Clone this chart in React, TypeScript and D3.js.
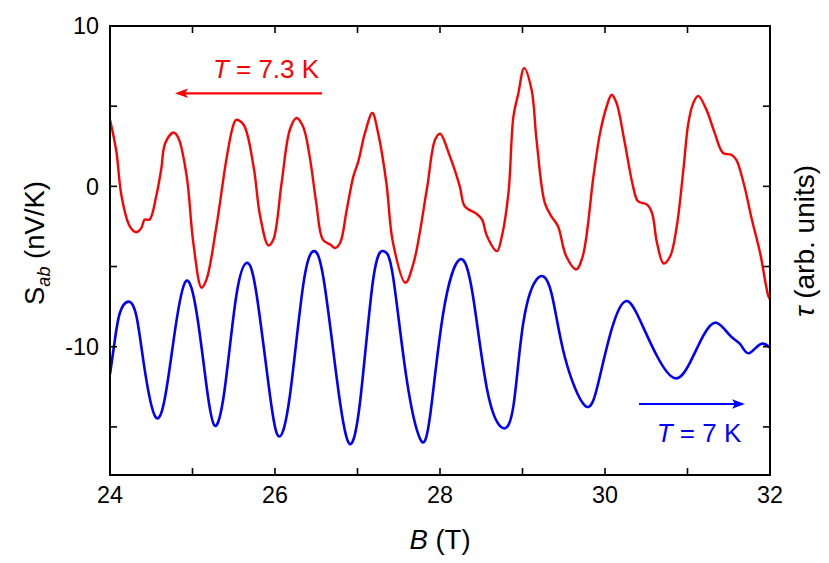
import React from "react";
import * as d3 from "d3";

const redB = [24.0, 24.04, 24.08, 24.14, 24.24, 24.32, 24.38, 24.42, 24.48, 24.56, 24.62, 24.67, 24.77, 24.83, 24.93, 25.01, 25.11, 25.17, 25.29, 25.41, 25.49, 25.53, 25.62, 25.74, 25.82, 25.92, 25.98, 26.08, 26.18, 26.26, 26.34, 26.42, 26.5, 26.58, 26.67, 26.73, 26.79, 26.87, 26.95, 27.01, 27.09, 27.18, 27.25, 27.35, 27.43, 27.58, 27.68, 27.84, 27.94, 28.0, 28.12, 28.24, 28.3, 28.44, 28.51, 28.57, 28.69, 28.75, 28.83, 28.89, 28.95, 29.02, 29.11, 29.17, 29.27, 29.35, 29.43, 29.53, 29.65, 29.73, 29.86, 29.94, 30.02, 30.08, 30.14, 30.24, 30.34, 30.4, 30.51, 30.57, 30.63, 30.71, 30.79, 30.87, 30.95, 31.01, 31.07, 31.13, 31.23, 31.33, 31.43, 31.53, 31.59, 31.68, 31.78, 31.88, 31.98, 32.0];
const redS = [4.15, 3.2, 2.08, -0.62, -2.49, -2.86, -2.59, -2.07, -2.07, -0.62, 1.04, 2.7, 3.36, 3.0, 0.62, -3.52, -6.32, -5.8, -2.49, 1.66, 3.73, 4.15, 3.84, 1.24, -1.87, -3.69, -3.32, 0.21, 3.53, 4.26, 3.73, 1.87, -1.03, -3.32, -3.63, -3.84, -3.52, -1.45, 0.62, 1.56, 3.32, 4.57, 3.32, 0.21, -3.52, -6.01, -4.77, -0.2, 2.9, 3.28, 1.87, 0.0, -1.24, -1.7, -2.07, -3.11, -4.04, -3.11, -0.41, 4.36, 5.81, 7.37, 6.02, 2.9, -1.03, -1.87, -2.49, -4.36, -5.18, -4.36, 0.62, 3.32, 4.98, 5.71, 5.19, 2.7, 0.0, -0.93, -1.14, -1.66, -3.52, -4.81, -4.36, -2.49, 1.04, 3.94, 5.19, 5.64, 4.77, 3.32, 2.08, 1.97, 1.66, 0.21, -2.07, -4.15, -6.85, -7.05];

const blueB = [24.0, 24.06, 24.12, 24.22, 24.32, 24.42, 24.55, 24.67, 24.79, 24.92, 25.05, 25.17, 25.27, 25.39, 25.53, 25.66, 25.78, 25.94, 26.05, 26.18, 26.34, 26.47, 26.59, 26.75, 26.89, 27.03, 27.19, 27.32, 27.43, 27.59, 27.76, 27.88, 28.04, 28.24, 28.4, 28.57, 28.75, 28.89, 29.01, 29.19, 29.35, 29.51, 29.76, 29.92, 30.08, 30.25, 30.42, 30.63, 30.85, 31.03, 31.19, 31.35, 31.52, 31.64, 31.74, 31.88, 32.0];
const blueS = [-11.72, -9.54, -7.88, -7.19, -8.09, -11.41, -14.37, -13.07, -8.92, -5.91, -7.88, -12.45, -14.93, -12.65, -6.85, -4.77, -6.85, -13.07, -15.6, -13.07, -6.22, -4.04, -5.81, -12.03, -15.97, -13.48, -5.81, -4.04, -5.6, -11.82, -15.76, -14.3, -7.88, -4.56, -6.85, -12.65, -15.04, -13.69, -8.5, -5.7, -6.64, -10.58, -13.69, -12.23, -8.92, -7.16, -8.3, -10.58, -11.97, -10.99, -9.33, -8.5, -9.33, -9.85, -10.41, -9.85, -10.06];

const xTicksMajor = [24, 26, 28, 30, 32];
const xTicksMinor = [24, 25, 26, 27, 28, 29, 30, 31, 32];
const yTicksMajor = [10, 0, -10];
const yTicksMinor = [10, 5, 0, -5, -10, -15];

const W = 829, H = 563;
const L = 110, R = 770, T = 26, Bm = 475;

export default function App() {
  const x = d3.scaleLinear().domain([24, 32]).range([L, R]);
  const y = d3.scaleLinear().domain([-18, 10]).range([Bm, T]);
  const redLine = d3
    .line<[number, number]>()
    .x((d) => x(d[0]))
    .y((d) => y(d[1]))
    .curve(d3.curveCatmullRom.alpha(0.5));
  const blueLine = d3
    .line<[number, number]>()
    .x((d) => x(d[0]))
    .y((d) => y(d[1]))
    .curve(d3.curveNatural);
  const redPath = redLine(redB.map((b, i) => [b, redS[i]]) as [number, number][]) || "";
  const bluePath = blueLine(blueB.map((b, i) => [b, blueS[i]]) as [number, number][]) || "";
  const font = "'Liberation Sans', Arial, Helvetica, sans-serif";
  const tl = 7;
  return (
    <svg
      width={W}
      height={H}
      style={{ position: "fixed", left: 0, top: 0, background: "#fff" }}
      fontFamily={font}
    >
      <rect x={0} y={0} width={W} height={H} fill="#fff" />
      <defs>
        <clipPath id="clip">
          <rect x={L} y={T} width={R - L} height={Bm - T} />
        </clipPath>
      </defs>
      <g clipPath="url(#clip)" fill="none" strokeLinejoin="round">
        <path d={redPath} stroke="#ff0000" strokeWidth={2.4} />
        <path d={bluePath} stroke="#0000ff" strokeWidth={2.6} />
      </g>
      <rect x={L} y={T} width={R - L} height={Bm - T} fill="none" stroke="#000" strokeWidth={2} />
      {xTicksMinor.map((t) => (
        <g key={"xt" + t} stroke="#000" strokeWidth={1.6}>
          <line x1={x(t)} x2={x(t)} y1={Bm} y2={Bm - tl} />
          <line x1={x(t)} x2={x(t)} y1={T} y2={T + tl} />
        </g>
      ))}
      {yTicksMinor.map((t) => (
        <g key={"yt" + t} stroke="#000" strokeWidth={1.6}>
          <line x1={L} x2={L + tl} y1={y(t)} y2={y(t)} />
          <line x1={R} x2={R - tl} y1={y(t)} y2={y(t)} />
        </g>
      ))}
      {xTicksMajor.map((t) => (
        <text key={"xl" + t} x={x(t)} y={503} textAnchor="middle" fontSize={23.3} fill="#000">
          {t}
        </text>
      ))}
      {yTicksMajor.map((t) => (
        <text key={"yl" + t} x={99} y={y(t) + 8.3} textAnchor="end" fontSize={23.3} fill="#000">
          {t}
        </text>
      ))}
      <text x={440} y={549} textAnchor="middle" fontSize={27.5} fill="#000">
        <tspan fontStyle="italic">B</tspan>
        <tspan> (T)</tspan>
      </text>
      <text transform={`translate(${44},${243}) rotate(-90)`} textAnchor="middle" fontSize={27.5} fill="#000">
        <tspan>S</tspan>
        <tspan fontSize={18} fontStyle="italic" dy={6}>ab</tspan>
        <tspan dy={-6}> (nV/K)</tspan>
      </text>
      <text transform={`translate(${814},${241}) rotate(-90)`} textAnchor="middle" fontSize={28} fill="#000">
        <tspan fontStyle="italic">τ</tspan>
        <tspan> (arb. units)</tspan>
      </text>
      <text x={266} y={78} textAnchor="middle" fontSize={26} fill="#ff0000">
        <tspan fontStyle="italic">T</tspan>
        <tspan> = 7.3 K</tspan>
      </text>
      <line x1={322} x2={184} y1={93.3} y2={93.3} stroke="#ff0000" strokeWidth={2.2} />
      <path d="M175,93.3 L188,88.5 L185,93.3 L188,98.1 Z" fill="#ff0000" />
      <text x={699} y={442} textAnchor="middle" fontSize={26} fill="#0000ff">
        <tspan fontStyle="italic">T</tspan>
        <tspan> = 7 K</tspan>
      </text>
      <line x1={639} x2={736} y1={404} y2={404} stroke="#0000ff" strokeWidth={2.2} />
      <path d="M745,404 L732,399.2 L735,404 L732,408.8 Z" fill="#0000ff" />
    </svg>
  );
}
